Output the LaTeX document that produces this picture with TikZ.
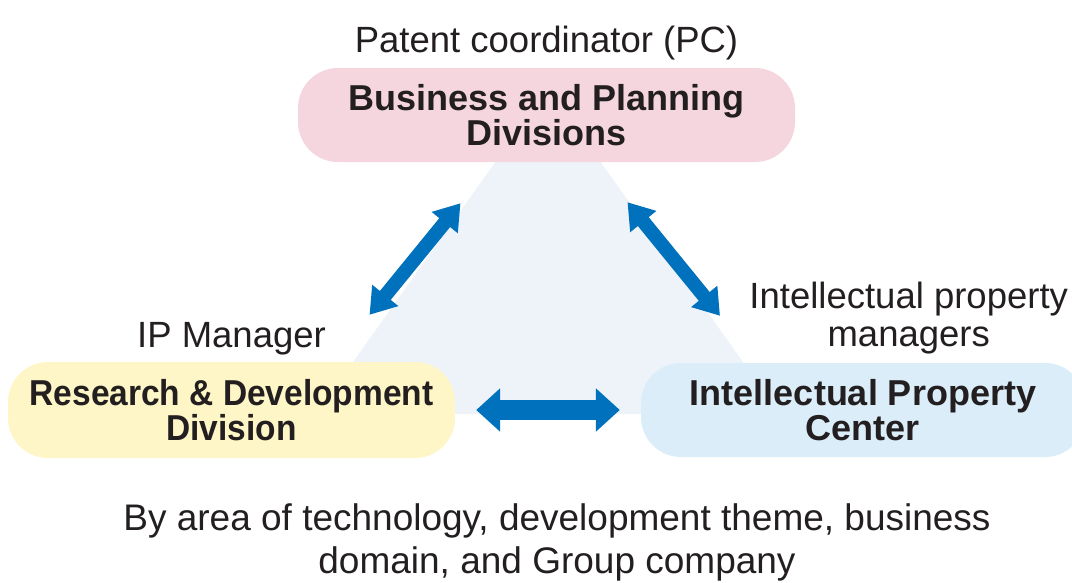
\documentclass[tikz,border=0pt]{standalone}
\usepackage{fontspec}
\setmainfont{Liberation Sans}
\usetikzlibrary{arrows.meta,positioning,calc}
\definecolor{ipink}{HTML}{231F20}
\definecolor{ipblue}{HTML}{0071BC}
\definecolor{ippink}{HTML}{F5D6DE}
\definecolor{ipyellow}{HTML}{FEF6C6}
\definecolor{ipsky}{HTML}{DAEDF8}
\definecolor{iptri}{HTML}{EEF3F9}

\begin{document}
\begin{tikzpicture}[x=1pt,y=-1pt,
        b/.style={text=ipink,rounded corners=40pt,inner sep=0pt,align=center,
          font=\fontsize{36}{35}\selectfont\bfseries},
        l/.style={text=ipink,inner sep=0pt,align=center,font=\fontsize{36.5}{38}\selectfont},
        a/.style={ipblue,line width=14pt,
          {Triangle[length=25pt,width=32pt]}-{Triangle[length=25pt,width=32pt]}},
        ah/.style={ipblue,line width=20pt,
          {Triangle[length=24pt,width=42pt]}-{Triangle[length=24pt,width=42pt]}}]
        \useasboundingbox (0,0) rectangle (1072,582);
        % shaded triangle behind the boxes
        \fill[iptri] (548,88) -- (316,414) -- (780,414) -- cycle;
        \node[b,fill=ippink,minimum width=497pt,minimum height=94pt] (bp) at (546.5,115)
          {Business and Planning\\Divisions};
        \node[b,fill=ipyellow,minimum width=447pt,minimum height=96pt] (rd) at (231.5,410)
          {\scalebox{0.93}[1]{Research \& Development}\\\scalebox{0.93}[1]{Division}};
        \node[b,fill=ipsky,minimum width=444pt,minimum height=94pt] (ip) at (863,410)
          {Intellectual Property\\Center};
        \node[l,above=8pt of bp] (pc) {Patent coordinator (PC)};
        \node[l,above=7pt of rd] (ipm) {IP Manager};
        \node[l,above left=9pt and 17pt of ip.north east] (ipms) {Intellectual property\\managers};
        \node[l,font=\fontsize{37}{43}\selectfont] (area) at (557,542)
          {By area of technology, development theme, business\\domain, and Group company};
        \draw[a] ($(bp.south)+(-86,41)$) -- ($(rd.north)+(138,-47)$);
        \draw[a] ($(bp.south)+(81,40)$) -- ($(ip.north)+(-143,-47)$);
        \draw[ah] ([xshift=21pt]rd.east) -- ([xshift=-21pt]ip.west);
      \end{tikzpicture}
\end{document}
